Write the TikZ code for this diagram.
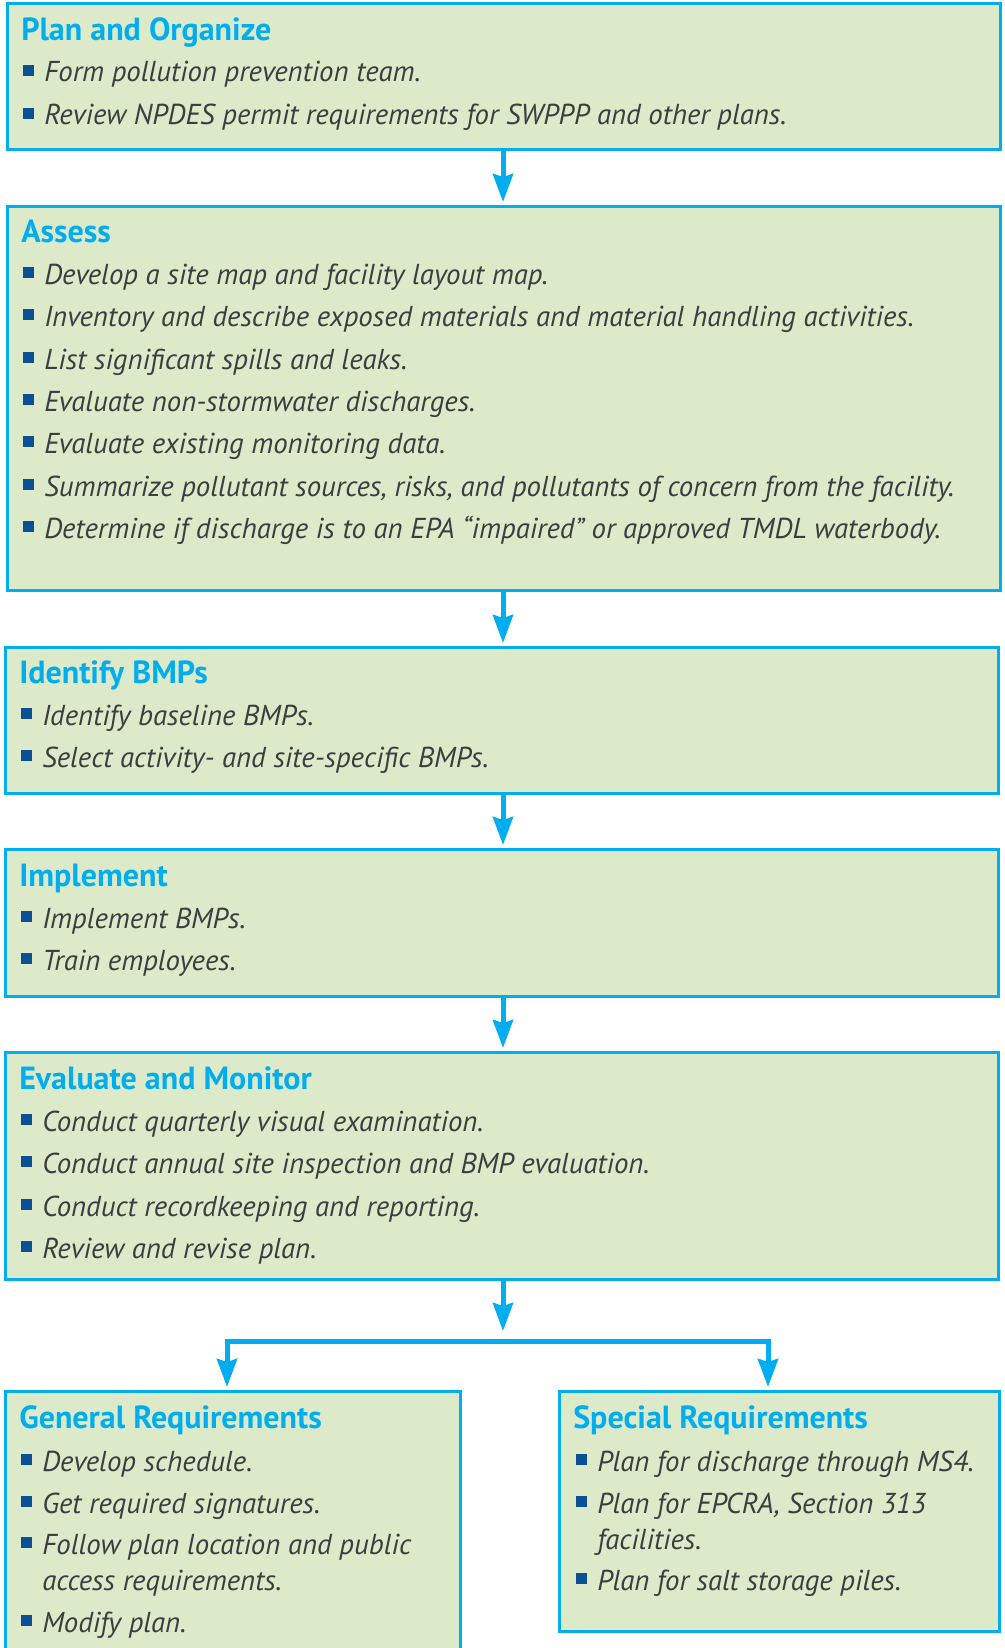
\documentclass[tikz,border=0pt]{standalone}
\usepackage{fontspec}
\setmainfont{PT Sans}
\usetikzlibrary{arrows.meta}
\newlength{\pxu}\setlength{\pxu}{0.75pt}
\definecolor{cyanb}{HTML}{00AEEF}
\definecolor{fillg}{HTML}{DCEAC9}
\definecolor{bulc}{HTML}{0B4F94}
\definecolor{txt}{HTML}{3A3E40}
\newcommand\bul{\textcolor{bulc}{\rule[6\pxu]{11\pxu}{11\pxu}}\hspace{10\pxu}}
\tikzset{tipx/.tip={Stealth[length=21pt,width=15pt,inset=2.25pt]}}
\begin{document}
\begin{tikzpicture}[x=0.75pt,y=-0.75pt,
  box/.style={draw=cyanb, fill=fillg, line width=3\pxu, inner sep=0pt, outer sep=0pt, anchor=north west, rectangle},
  ttl/.style={anchor=base west, inner sep=0pt, text=cyanb, font=\fontsize{24}{28}\selectfont\bfseries},
  itm/.style={anchor=base west, inner sep=0pt, text=txt, font=\fontsize{21.6}{25}\selectfont\itshape},
  conn/.style={draw=cyanb, line width=5\pxu, -tipx, shorten >=4\pxu}]
\useasboundingbox (0,0) rectangle (1005,1648);
\clip (0,0) rectangle (1005,1648);

% boxes
\node[box, minimum width=993\pxu, minimum height=146\pxu] (b1) at (7,4) {};
\node[box, minimum width=993\pxu, minimum height=384\pxu] (b2) at (7,206) {};
\node[box, minimum width=993\pxu, minimum height=146\pxu] (b3) at (5,647) {};
\node[box, minimum width=993\pxu, minimum height=147\pxu] (b4) at (5,849) {};
\node[box, minimum width=993\pxu, minimum height=227\pxu] (b5) at (5,1052) {};
\node[box, minimum width=455\pxu, minimum height=280\pxu] (gen) at (5,1391) {};
\node[box, minimum width=440\pxu, minimum height=240\pxu] (spec) at (559,1391) {};

% box 1
\node[ttl] (t1) at (21,41) {Plan and Organize};
\node[itm] (i11) at (23,82) {\bul Form pollution prevention team.};
\node[itm] (i12) at (23,125) {\bul Review NPDES permit requirements for SWPPP and other plans.};

% box 2
\node[ttl] (t2) at (21,242) {Assess};
\node[itm] (i21) at (23,284) {\bul Develop a site map and facility layout map.};
\node[itm] (i22) at (23,326) {\bul Inventory and describe exposed materials and material handling activities.};
\node[itm] (i23) at (23,369) {\bul List significant spills and leaks.};
\node[itm] (i24) at (23,411) {\bul Evaluate non-stormwater discharges.};
\node[itm] (i25) at (23,453) {\bul Evaluate existing monitoring data.};
\node[itm] (i26) at (23,496) {\bul Summarize pollutant sources, risks, and pollutants of concern from the facility.};
\node[itm] (i27) at (23,538) {\bul Determine if discharge is to an EPA “impaired” or approved TMDL waterbody.};

% box 3
\node[ttl] (t3) at (19,683) {Identify BMPs};
\node[itm] (i31) at (21,725) {\bul Identify baseline BMPs.};
\node[itm] (i32) at (21,767) {\bul Select activity- and site-specific BMPs.};

% box 4
\node[ttl] (t4) at (19,886) {Implement};
\node[itm] (i41) at (21,928) {\bul Implement BMPs.};
\node[itm] (i42) at (21,970) {\bul Train employees.};

% box 5
\node[ttl] (t5) at (19,1089) {Evaluate and Monitor};
\node[itm] (i51) at (21,1131) {\bul Conduct quarterly visual examination.};
\node[itm] (i52) at (21,1173) {\bul Conduct annual site inspection and BMP evaluation.};
\node[itm] (i53) at (21,1216) {\bul Conduct recordkeeping and reporting.};
\node[itm] (i54) at (21,1258) {\bul Review and revise plan.};

% general
\node[ttl] (t6) at (19,1428) {General Requirements};
\node[itm] (i61) at (21,1471) {\bul Develop schedule.};
\node[itm] (i62) at (21,1513) {\bul Get required signatures.};
\node[itm] (i63) at (21,1554) {\bul Follow plan location and public};
\node[itm] (i63b) at (42,1590) {access requirements.};
\node[itm] (i64) at (21,1632) {\bul Modify plan.};

% special
\node[ttl] (t7) at (573,1428) {Special Requirements};
\node[itm] (i71) at (576,1471) {\bul Plan for discharge through MS4.};
\node[itm] (i72) at (576,1513) {\bul Plan for EPCRA, Section 313};
\node[itm] (i72b) at (597,1549) {facilities.};
\node[itm] (i73) at (576,1590) {\bul Plan for salt storage piles.};

% connectors
\coordinate (ax) at (503,0);
\draw[conn] (b1.south -| ax) -- (b2.north -| ax);
\draw[conn] (b2.south -| ax) -- (b3.north -| ax);
\draw[conn] (b3.south -| ax) -- (b4.north -| ax);
\draw[conn] (b4.south -| ax) -- (b5.north -| ax);
\coordinate (fork) at (503,1341);
\coordinate (gl) at (227,1341);
\coordinate (gr) at (768,1341);
\draw[conn, shorten >=10\pxu] (b5.south -| ax) -- (fork);
\draw[conn, tipx-tipx, shorten <=4\pxu, line join=miter] (gen.north -| gl) -- (gl) -- (gr) -- (spec.north -| gr);
\end{tikzpicture}
\end{document}
